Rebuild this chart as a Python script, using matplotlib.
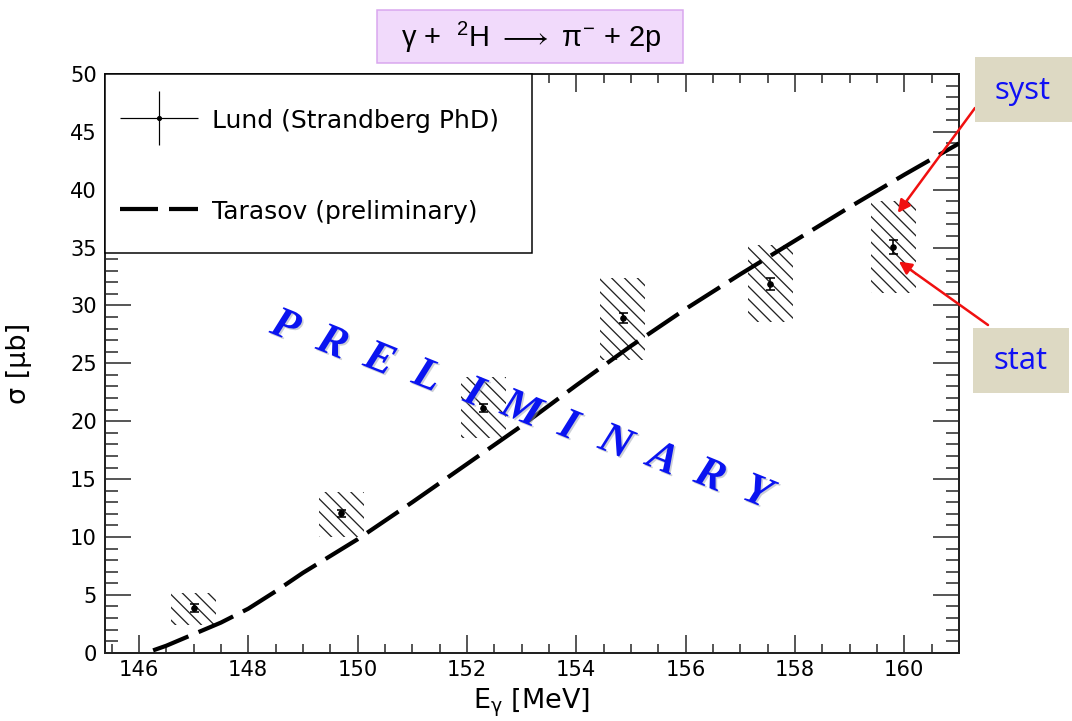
import numpy as np
import matplotlib
matplotlib.use('Agg')
import matplotlib.pyplot as plt
from matplotlib.patches import Rectangle
from matplotlib.ticker import MultipleLocator
from matplotlib.container import ErrorbarContainer
from matplotlib.legend_handler import HandlerErrorbar
import matplotlib.patheffects as pe

# ---------------- data ----------------
E_data = [147.0, 149.7, 152.3, 154.85, 157.55, 159.8]
sigma_data = [3.85, 12.05, 21.15, 28.9, 31.85, 35.05]
stat_err = [0.35, 0.3, 0.35, 0.45, 0.5, 0.6]
syst_low = [2.4, 10.0, 18.55, 25.3, 28.6, 31.1]
syst_high = [5.15, 13.9, 23.8, 32.4, 35.2, 39.0]
syst_halfwidth = 0.41

theory_E = [146.26, 146.5, 147.0, 147.5, 148.0, 148.5, 149.0, 150.0, 151.0, 152.0,
            153.0, 154.0, 155.0, 156.0, 157.0, 158.0, 159.0, 160.0, 161.0]
theory_sigma = [0.2, 0.6, 1.6, 2.6, 3.8, 5.3, 6.9, 9.8, 13.0, 16.3,
                19.6, 23.1, 26.5, 29.7, 32.7, 35.6, 38.5, 41.3, 44.0]

label_data = 'Lund (Strandberg PhD)'
label_theory = 'Tarasov (preliminary)'
title_text = r'$\gamma$ +  $^{2}$H $\longrightarrow$ $\pi^{-}$ + 2p'
watermark = 'PRELIMINARY'

# ---------------- setup ----------------
DPI = 77
W, H = 1072, 721


def px(v):
    return v * 72.0 / DPI


def fx(x):
    return x / W


def fy(y):
    return 1 - y / H


plt.rcParams['font.family'] = ['DejaVu Sans']
plt.rcParams['mathtext.fontset'] = 'dejavusans'
plt.rcParams['mathtext.rm'] = 'Liberation Sans'
plt.rcParams['mathtext.it'] = 'Liberation Sans'
plt.rcParams['mathtext.bf'] = 'Liberation Sans:bold'
plt.rcParams['hatch.linewidth'] = px(1.3)
plt.rcParams['hatch.color'] = '#222222'
plt.rcParams['lines.scale_dashes'] = False

fig = plt.figure(figsize=(W / DPI, H / DPI), dpi=DPI)
fig.patch.set_facecolor('white')
ax_top, ax_bot = 74, 652.7
ax_h = ax_bot - ax_top
ax = fig.add_axes([fx(105), fy(ax_bot), (959 - 105) / W, ax_h / H])

# syst boxes
for x, lo, hi in zip(E_data, syst_low, syst_high):
    ax.add_patch(Rectangle((x - syst_halfwidth, lo), 2 * syst_halfwidth, hi - lo,
                           facecolor='none', edgecolor='#222222', hatch='\\\\',
                           lw=0, zorder=2))

# theory
line_th, = ax.plot(theory_E, theory_sigma, color='black', lw=px(4.2),
                   dashes=(px(38), px(11)), dash_capstyle='butt', zorder=3,
                   label=label_theory)

# data with stat errors
ax.errorbar(E_data, sigma_data, yerr=stat_err, fmt='o', ms=px(5.5), color='black',
            lw=px(1.6), capsize=px(4.5), capthick=px(1.6), zorder=4)

# legend proxy
proxy = ax.errorbar([np.nan], [np.nan], xerr=[1], yerr=[1], fmt='o', ms=px(4),
                    color='black', lw=px(1.2), capsize=0, label=label_data)

ax.set_xlim(145.38, 161.0)
ax.set_ylim(0, 50)
ax.xaxis.set_major_locator(MultipleLocator(2))
ax.xaxis.set_minor_locator(MultipleLocator(0.5))
ax.yaxis.set_major_locator(MultipleLocator(5))
ax.yaxis.set_minor_locator(MultipleLocator(1))

frame_col = '#222222'
for s in ax.spines.values():
    s.set_linewidth(px(2))
    s.set_color(frame_col)
ax.tick_params(which='both', direction='in', top=True, right=True,
               width=px(1.5), color=frame_col, labelcolor='black')
ax.tick_params(axis='x', which='major', length=px(18), pad=px(7), labelsize=px(21))
ax.tick_params(axis='x', which='minor', length=px(9))
ax.tick_params(axis='y', which='major', length=px(26), pad=px(8), labelsize=px(21))
ax.tick_params(axis='y', which='minor', length=px(13))

ax.set_xlabel(r'E$_{\mathregular{\gamma}}$ [MeV]', fontsize=px(27))
ax.xaxis.set_label_coords(0.5, -0.058)
ax.set_ylabel('σ [μb]', fontsize=px(27))
ax.yaxis.set_label_coords((32 - 105) / 854, 0.5)

# legend frame + legend contents
leg_bottom = 253
ax.add_patch(Rectangle((0, 1 - (leg_bottom - ax_top) / ax_h), 0.5, (leg_bottom - ax_top) / ax_h,
                       transform=ax.transAxes, facecolor='white', edgecolor='black',
                       lw=px(1.5), zorder=5, clip_on=False))
leg = ax.legend(handles=[proxy, line_th], labels=[label_data, label_theory],
                loc='upper left', bbox_to_anchor=((120 - 105) / 854, 1 - (108 - ax_top) / ax_h),
                borderaxespad=0, frameon=False, fontsize=px(25), handlelength=3.1,
                handleheight=1.0, handletextpad=0.58, borderpad=0, labelspacing=2.66,
                handler_map={ErrorbarContainer: HandlerErrorbar(xerr_size=1.55, yerr_size=1.08)})
leg.set_zorder(6)

# title box
fig.add_artist(Rectangle((fx(377), fy(63)), (683 - 377) / W, (63 - 10) / H,
                         transform=fig.transFigure, facecolor='#F1DAFB',
                         edgecolor='#D9A6EE', lw=px(1.5)))
fig.text(fx(531), fy(37), title_text, fontsize=px(29), ha='center', va='center',
         family='Liberation Sans', math_fontfamily='custom')

# watermark letters along a line
n = len(watermark)
for i, ch in enumerate(watermark):
    t = i / (n - 1)
    xc = 285 + t * (757 - 285)
    yc = 327 + t * (493 - 327)
    fig.text(fx(xc), fy(yc), ch, fontsize=px(44), color='#0A14F0',
             family='Liberation Serif', style='italic', weight='bold',
             rotation=-22, ha='center', va='center', zorder=6,
             path_effects=[pe.withSimplePatchShadow(offset=(1.5, -1.5),
                                                    shadow_rgbFace='#9AA0B0', alpha=0.5)])

# syst / stat boxes
box_col = '#DDD9C3'
fig.add_artist(Rectangle((fx(975), fy(122)), 97 / W, 65 / H, transform=fig.transFigure,
                         facecolor=box_col, edgecolor='none'))
fig.text(fx(1023), fy(91), 'syst', fontsize=px(31), color='#1010F5',
         family='Open Sans', ha='center', va='center')
fig.add_artist(Rectangle((fx(973), fy(393)), 96 / W, 65 / H, transform=fig.transFigure,
                         facecolor=box_col, edgecolor='none'))
fig.text(fx(1021), fy(361), 'stat', fontsize=px(31), color='#1010F5',
         family='Open Sans', ha='center', va='center')

arrow_kw = dict(arrowstyle='-|>', color='#F01010', lw=px(2.5), mutation_scale=px(26),
                shrinkA=0, shrinkB=0)
ax.annotate('', xy=(E_data[-1] + 0.08, 38.0), xycoords='data',
            xytext=(975, H - 108), textcoords='figure pixels',
            arrowprops=arrow_kw, annotation_clip=False, zorder=7)
ax.annotate('', xy=(E_data[-1] + 0.1, 33.8), xycoords='data',
            xytext=(988, H - 325), textcoords='figure pixels',
            arrowprops=arrow_kw, annotation_clip=False, zorder=7)

fig.savefig('out.png', dpi=DPI, facecolor='white')
